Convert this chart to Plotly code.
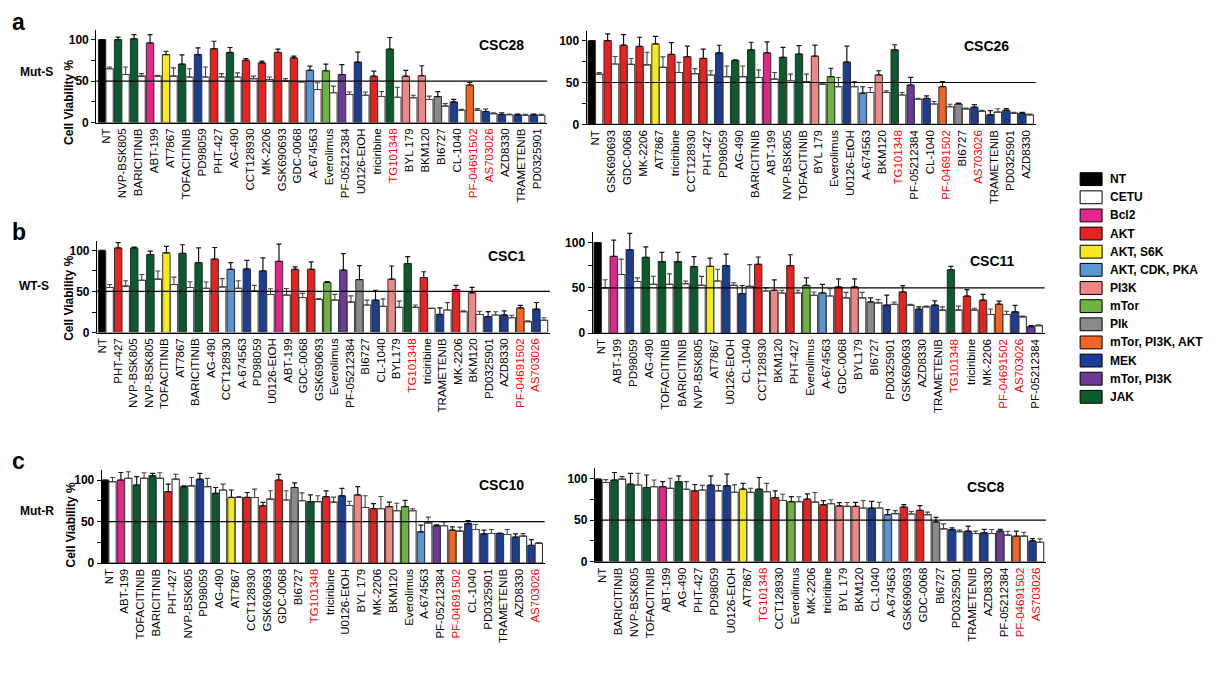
import numpy as np
import plotly.graph_objects as go

W, H = 1229, 680
FONT = "Arial, Liberation Sans, sans-serif"

# ---------------- legend / classes ----------------
class_names = ["NT", "CETU", "Bcl2", "AKT", "AKT, S6K", "AKT, CDK, PKA", "PI3K", "mTor",
               "Plk", "mTor, PI3K, AKT", "MEK", "mTor, PI3K", "JAK"]
class_colors = ["#000000", "#ffffff", "#e3268b", "#e52421", "#f4e91c", "#5d95d2", "#f08787",
                "#6cb33f", "#8a8a8a", "#f26522", "#1d3c93", "#6a3c97", "#0c5b2e"]

drug_class = {
    "NT": "NT",
    "ABT-199": "Bcl2",
    "PHT-427": "AKT", "CCT128930": "AKT", "MK-2206": "AKT", "GSK690693": "AKT",
    "GDC-0068": "AKT", "triciribine": "AKT",
    "AT7867": "AKT, S6K",
    "A-674563": "AKT, CDK, PKA",
    "BYL 179": "PI3K", "BYL179": "PI3K", "BKM120": "PI3K",
    "Everolimus": "mTor",
    "BI6727": "Plk",
    "PF-04691502": "mTor, PI3K, AKT",
    "PD98059": "MEK", "U0126-EtOH": "MEK", "CL-1040": "MEK", "AS703026": "MEK",
    "AZD8330": "MEK", "TRAMETENIB": "MEK", "PD0325901": "MEK",
    "PF-05212384": "mTor, PI3K",
    "NVP-BSK805": "JAK", "BARICITINIB": "JAK", "TOFACITINIB": "JAK", "AG-490": "JAK",
    "TG101348": "JAK",
}
red_labels = ["TG101348", "PF-04691502", "AS703026"]

# ---------------- data ----------------
# CSC28
a_left_drugs = ["NT", "NVP-BSK805", "BARICITINIB", "ABT-199", "AT7867", "TOFACITINIB", "PD98059",
                "PHT-427", "AG-490", "CCT128930", "MK-2206", "GSK690693", "GDC-0068", "A-674563",
                "Everolimus", "PF-05212384", "U0126-EtOH", "triciribine", "TG101348", "BYL 179",
                "BKM120", "BI6727", "CL-1040", "PF-04691502", "AS703026", "AZD8330", "TRAMETENIB",
                "PD0325901"]
a_left_drug = [100, 100, 101, 96, 82, 70.5, 82, 89, 84.5, 75, 72, 84.5, 78, 63, 62.5, 58, 73, 56,
               88.5, 56, 56.5, 31.5, 25, 45.4, 13.5, 10, 9.5, 9.5]
a_left_drug_err = [0, 3, 5, 10, 4, 11, 8, 9, 6, 2, 2, 4, 2, 5, 8, 12, 12, 6, 14, 7, 12, 6, 3, 3, 3,
                   2, 1, 1]
a_left_cetu = [65, 58, 56, 56, 56, 55, 55, 55, 55, 53, 52, 50, 49, 40, 36, 34, 33, 31.5, 30.7, 30,
               28, 20, 15, 15, 11, 9.5, 9, 9]
a_left_cetu_err = [2, 9, 3, 1, 10, 10, 12, 4, 5, 3, 3, 3, 0, 8, 8, 3, 4, 6, 12, 3, 4, 3, 1, 2, 1, 1,
                   1, 1]

# CSC26
a_right_drugs = ["NT", "GSK690693", "GDC-0068", "MK-2206", "AT7867", "triciribine", "CCT128930",
                 "PHT-427", "PD98059", "AG-490", "BARICITINIB", "ABT-199", "NVP-BSK805",
                 "TOFACITINIB", "BYL 179", "Everolimus", "U0126-EtOH", "A-674563", "BKM120",
                 "TG101348", "PF-05212384", "CL-1040", "PF-04691502", "BI6727", "AS703026",
                 "TRAMETENIB", "PD0325901", "AZD8330"]
a_right_drug = [100, 100, 94.5, 93, 96, 83.5, 80.7, 78.7, 85.4, 76.4, 89, 85.4, 80, 84, 81.5, 57,
                74.4, 37.4, 59, 89, 47, 31, 45, 24.4, 20.5, 11.4, 17, 13.4]
a_right_drug_err = [0, 8, 12.6, 11, 9, 14, 12.6, 11, 9, 0.5, 9, 13, 12, 10, 13, 10, 19, 7.5, 5, 6,
                    9, 3, 6, 1, 3, 5, 2, 1]
a_right_cetu = [60, 72, 71.6, 71, 68, 62, 60.6, 59, 57, 57, 56, 54, 52, 51, 48, 45, 45, 38, 38, 35,
                30, 24.4, 21, 18.5, 15.7, 14.6, 13.4, 11.4]
a_right_cetu_err = [2, 9, 7, 15, 12.6, 12, 6, 5, 12.6, 12.6, 9, 8, 8, 9, 2, 11, 6, 6, 2, 3, 1, 3,
                    3, 1, 1, 4, 1, 1]

# CSC1 (bars by drug; the printed axis labels contain a duplicated entry)
b_left_drugs = ["NT", "PHT-427", "NVP-BSK805", "TOFACITINIB", "AT7867", "BARICITINIB", "AG-490",
                "CCT128930", "A-674563", "PD98059", "U0126-EtOH", "ABT-199", "GDC-0068",
                "GSK690693", "Everolimus", "PF-05212384", "BI6727", "CL-1040", "BYL179",
                "TG101348", "triciribine", "TRAMETENIB", "MK-2206", "BKM120", "PD0325901",
                "AZD8330", "PF-04691502", "AS703026"]
b_left_ticklabels = ["NT", "PHT-427", "NVP-BSK805", "NVP-BSK805", "TOFACITINIB", "AT7867",
                     "BARICITINIB", "AG-490", "CCT128930", "A-674563", "PD98059", "U0126-EtOH",
                     "ABT-199", "GDC-0068", "GSK690693", "Everolimus", "PF-05212384", "BI6727",
                     "CL-1040", "BYL179", "TG101348", "triciribine", "TRAMETENIB", "MK-2206",
                     "BKM120", "PD0325901", "AZD8330", "PF-04691502", "AS703026"]
b_left_drug = [100, 103, 103, 95, 97, 96.4, 85, 89.5, 77, 77.4, 75, 86.7, 77, 77, 61, 76, 64.5,
               39.5, 65, 84, 67, 22, 52.4, 48.4, 19.4, 21.4, 30, 28.6]
b_left_drug_err = [0, 6.5, 1, 4, 8, 10.5, 18, 14, 8, 10.5, 16, 21, 3, 9, 1, 20, 17, 12, 16, 8.5, 7,
                   8, 5, 6.5, 6, 5, 3, 8]
b_left_cetu = [54.8, 56.5, 63.7, 65, 58.5, 54.8, 54, 55.6, 54, 50.4, 46.4, 45.6, 42.7, 40.3, 39.5,
               37, 33.5, 32, 30.6, 30.6, 29.4, 27.4, 25.4, 22, 21.4, 18, 13.3, 15]
b_left_cetu_err = [3.6, 6.5, 7, 10, 9, 7, 7.6, 10, 9, 7, 7, 8, 5, 1, 7, 7.6, 6, 9, 7.6, 3, 0, 9, 1,
                   4, 4, 3, 1, 3]

# CSC11
b_right_drugs = ["NT", "ABT-199", "PD98059", "AG-490", "TOFACITINIB", "BARICITINIB", "NVP-BSK805",
                 "AT7867", "U0126-EtOH", "CL-1040", "CCT128930", "BKM120", "PHT-427", "Everolimus",
                 "A-674563", "GDC-0068", "BYL179", "BI6727", "PD0325901", "GSK690693", "AZD8330",
                 "TRAMETENIB", "TG101348", "triciribine", "MK-2206", "PF-04691502", "AS703026",
                 "PF-05212384"]
b_right_drug = [100, 84.7, 92, 83.6, 79, 79, 73.5, 73.8, 74.5, 43.6, 76, 47.3, 74.5, 52.7, 44.4,
                51, 51, 34.5, 31, 45.5, 26.5, 31, 70, 41, 36.4, 32, 23.6, 7.3]
b_right_drug_err = [0, 18, 18, 11.6, 10, 10, 11, 9, 12.7, 9, 8, 11.6, 12, 8.4, 9.5, 9, 9, 4.4, 11,
                    7, 2.5, 4.7, 3.6, 7, 6.5, 3.3, 7, 1]
b_right_cetu = [50, 64.7, 57, 53.8, 53.8, 54.5, 52.7, 57.5, 52.7, 51.6, 46.5, 44.4, 44.4, 41.8, 41,
                39, 39, 33.5, 32, 31, 29, 25.5, 25.5, 25.5, 20.7, 20.7, 18, 8.4]
b_right_cetu_err = [9, 17, 4, 9, 11.6, 3, 10, 13, 3, 24, 3.6, 3, 3, 3.6, 8, 6, 6, 3.6, 2.5, 1, 1,
                    3.6, 4.4, 2, 6, 3.6, 1, 1]

# CSC10
c_left_drugs = ["NT", "ABT-199", "TOFACITINIB", "BARICITINIB", "PHT-427", "NVP-BSK805", "PD98059",
                "AG-490", "AT7867", "CCT128930", "GSK690693", "GDC-0068", "BI6727", "TG101348",
                "triciribine", "U0126-EtOH", "BYL 179", "MK-2206", "BKM120", "Everolimus",
                "A-674563", "PF-05212384", "PF-04691502", "CL-1040", "PD0325901", "TRAMETENIB",
                "AZD8330", "AS703026"]
c_left_drug = [100, 100, 94, 105, 86, 92, 101, 84, 79, 79, 69, 100, 91, 74, 80, 81, 82, 65.5, 68,
               68, 37.7, 45, 39.7, 47.6, 35.3, 35.7, 31.3, 21.4]
c_left_drug_err = [0, 9, 10, 3, 9, 1, 7, 7, 9, 6, 4, 6.7, 5.6, 8, 7, 9, 10, 6, 5.5, 7.5, 8, 1.2, 4,
                   3.6, 4.4, 0.5, 4, 7]
c_left_cetu = [98, 102, 102, 102, 101, 93, 92, 88, 79, 79, 77, 76, 75, 74, 73.4, 69.4, 67, 65.5,
               63, 63, 48.4, 45, 38.5, 40.5, 35.7, 34.5, 32.5, 23.8]
c_left_cetu_err = [5, 8, 6.7, 6.7, 6, 10, 10, 7, 1, 10, 10, 11, 9.5, 7, 6, 5, 14, 14.7, 9, 2.4, 7,
                   4.4, 4.8, 6, 4.8, 6, 3, 1]

# CSC8
c_right_drugs = ["NT", "BARICITINIB", "NVP-BSK805", "TOFACITINIB", "ABT-199", "AG-490", "PHT-427",
                 "PD98059", "U0126-EtOH", "AT7867", "TG101348", "CCT128930", "Everolimus",
                 "MK-2206", "triciribine", "BYL 179", "BKM120", "CL-1040", "A-674563", "GSK690693",
                 "GDC-0068", "BI6727", "PD0325901", "TRAMETENIB", "AZD8330", "PF-05212384",
                 "PF-04691502", "AS703026"]
c_right_drug = [99, 98, 93, 89, 90, 96, 85, 92, 91, 87, 87, 77, 72, 75, 68.4, 67, 66.4, 64.4, 56.5,
                65.6, 61.7, 47.8, 38.7, 36.8, 34.8, 36.8, 30.8, 25]
c_right_drug_err = [0, 9, 13, 15, 6, 7, 7.6, 11, 14, 7, 14, 8, 6, 6.3, 5, 4, 4.7, 8, 6, 2.8, 5.5,
                    5.5, 2, 6, 4, 2, 6, 2.8]
c_right_cetu = [95, 99, 92, 90, 88, 87, 86, 85, 83.4, 83.4, 84, 73.5, 72, 71.5, 69.6, 66.4, 64.4,
                64.4, 57.7, 57.3, 56.5, 39.5, 36, 34, 34, 32, 30.8, 23.5]
c_right_cetu_err = [3.5, 3, 14, 8, 12, 9, 5.5, 6.5, 8.7, 4.7, 10, 7.5, 6, 11.5, 4.7, 4.7, 9, 7,
                    3.6, 3, 3, 6, 2, 2.8, 4.7, 4.7, 4.7, 4]

panel_titles = ["CSC28", "CSC26", "CSC1", "CSC11", "CSC10", "CSC8"]

panels = [
    dict(drugs=a_left_drugs, labels=a_left_drugs, drug=a_left_drug, derr=a_left_drug_err,
         cetu=a_left_cetu, cerr=a_left_cetu_err),
    dict(drugs=a_right_drugs, labels=a_right_drugs, drug=a_right_drug, derr=a_right_drug_err,
         cetu=a_right_cetu, cerr=a_right_cetu_err),
    dict(drugs=b_left_drugs, labels=b_left_ticklabels, drug=b_left_drug, derr=b_left_drug_err,
         cetu=b_left_cetu, cerr=b_left_cetu_err),
    dict(drugs=b_right_drugs, labels=b_right_drugs, drug=b_right_drug, derr=b_right_drug_err,
         cetu=b_right_cetu, cerr=b_right_cetu_err),
    dict(drugs=c_left_drugs, labels=c_left_drugs, drug=c_left_drug, derr=c_left_drug_err,
         cetu=c_left_cetu, cerr=c_left_cetu_err),
    dict(drugs=c_right_drugs, labels=c_right_drugs, drug=c_right_drug, derr=c_right_drug_err,
         cetu=c_right_cetu, cerr=c_right_cetu_err),
]

# ---------------- layout geometry (pixels) ----------------
geom = [
    dict(c0=105.0, sp=16.0, xl=-0.6, y0=124.0, k=0.84, tx=501, ty=45),
    dict(c0=595.0, sp=15.96, xl=-0.55, y0=125.7, k=0.847, tx=986, ty=46),
    dict(c0=105.0, sp=16.1, xl=-0.55, y0=336.0, k=0.83, tx=506, ty=259),
    dict(c0=601.0, sp=16.07, xl=-0.55, y0=336.7, k=0.917, tx=992, ty=264),
    dict(c0=108.0, sp=15.8, xl=-0.45, y0=569.0, k=0.84, tx=501, ty=490),
    dict(c0=601.7, sp=16.09, xl=-0.45, y0=567.7, k=0.844, tx=986, ty=492),
]
XR = 27.6
YMAX = 112

color_of = dict(zip(class_names, class_colors))

fig = go.Figure()
shapes = []
annotations = []


def ann(text, px, py, size, angle=0, xanchor="center"):
    return dict(text=text, x=px / W, y=1 - py / H, xref="paper", yref="paper",
                showarrow=False, textangle=angle, xanchor=xanchor, yanchor="middle",
                font=dict(family=FONT, size=size, color="black"))


for i, (p, g) in enumerate(zip(panels, geom)):
    n = len(p["drug"])
    idx = "" if i == 0 else str(i + 1)
    xa, ya = "x" + idx, "y" + idx
    x = list(range(n))
    cols = [color_of[drug_class[d]] for d in p["drugs"]]
    fig.add_trace(go.Bar(
        x=x, y=p["drug"], offset=-0.47, width=0.46, xaxis=xa, yaxis=ya, showlegend=False,
        marker=dict(color=cols, line=dict(color="#222222", width=0.9)),
        error_y=dict(type="data", symmetric=False, array=p["derr"], arrayminus=[0] * n,
                     color="#111111", thickness=1.2, width=2.5)))
    fig.add_trace(go.Bar(
        x=x, y=p["cetu"], offset=0.0, width=0.46, xaxis=xa, yaxis=ya, showlegend=False,
        marker=dict(color="white", line=dict(color="#3a3a3a", width=1.1)),
        error_y=dict(type="data", symmetric=False, array=p["cerr"], arrayminus=[0] * n,
                     color="#444444", thickness=1.1, width=2.5)))

    labels = p["labels"]
    if len(labels) == n:
        tickvals = x
    else:
        tickvals = list(np.linspace(-0.2, n - 1.3, len(labels)))
    ticktext = [f'<span style="color:#ff0000">{t}</span>' if t in red_labels else t
                for t in labels]

    xl = g["c0"] + g["xl"] * g["sp"]
    xr = g["c0"] + XR * g["sp"]
    ytop = g["y0"] - YMAX * g["k"]
    fig.update_layout(**{
        "xaxis" + idx: dict(domain=[xl / W, xr / W], range=[g["xl"], XR], anchor=ya,
                            tickvals=tickvals, ticktext=ticktext, tickangle=-90, ticks="",
                            showline=True, linecolor="black", linewidth=1.3, showgrid=False,
                            zeroline=False, tickfont=dict(family=FONT, size=11.5, color="black")),
        "yaxis" + idx: dict(domain=[1 - g["y0"] / H, 1 - ytop / H], range=[0, YMAX], anchor=xa,
                            tickvals=[0, 25, 50, 75, 100],
                            ticktext=["<b>0</b>", "", "<b>50</b>", "", "<b>100</b>"],
                            ticks="outside", ticklen=4, tickcolor="black", tickwidth=1,
                            showline=True, linecolor="black", linewidth=1.3, showgrid=False,
                            zeroline=False, tickfont=dict(family=FONT, size=12, color="black")),
    })
    shapes.append(dict(type="line", xref=xa + " domain", yref=ya, x0=0, x1=1, y0=50, y1=50,
                       line=dict(color="black", width=1.2)))
    annotations.append(ann(f"<b>{panel_titles[i]}</b>", g["tx"], g["ty"], 14))

# panel letters, row labels, y titles
for txt, px, py in [("a", 18, 22), ("b", 18, 234), ("c", 18, 466)]:
    annotations.append(ann(f"<b>{txt}</b>", px, py, 23))
for txt, px, py in [("Mut-S", 36, 73), ("WT-S", 33, 289), ("Mut-R", 36, 516)]:
    annotations.append(ann(f"<b>{txt}</b>", px, py, 12))
for px, py in [(68, 103), (68, 301), (70, 530)]:
    annotations.append(ann("<b>Cell Viability %</b>", px, py, 12, angle=-90))

# legend (boxes + labels)
leg_x0, leg_y0, leg_dy = 1080, 181, 18.33
for j, (nm, col) in enumerate(zip(class_names, class_colors)):
    yc = leg_y0 + j * leg_dy
    shapes.append(dict(type="rect", xref="paper", yref="paper", x0=leg_x0 / W,
                       x1=(leg_x0 + 22) / W, y0=1 - (yc + 6.5) / H, y1=1 - (yc - 6.5) / H,
                       fillcolor=col, line=dict(color="black", width=1)))
    annotations.append(ann(f"<b>{nm}</b>", leg_x0 + 28, yc, 12, xanchor="left"))

fig.update_layout(width=W, height=H, margin=dict(l=0, r=0, t=0, b=0), barmode="overlay",
                  plot_bgcolor="white", paper_bgcolor="white", shapes=shapes,
                  annotations=annotations, font=dict(family=FONT, color="black"))

fig.write_html("out.html")
